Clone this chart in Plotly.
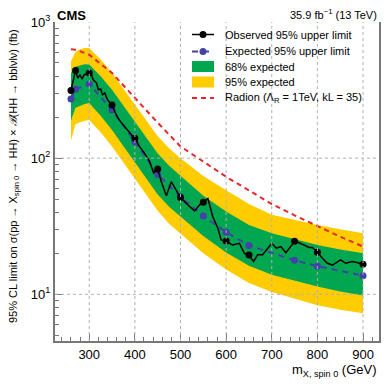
import math
import plotly.graph_objects as go

# ---- data (fb) ----
mass_points = [260, 270, 300, 350, 400, 450, 500, 550, 600, 650, 750, 800, 900]
obs_points = [314, 441, 422, 246, 140, 83.4, 51.3, 47.5, 24.6, 19.4, 24.5, 20.4, 16.6]
exp_points = [272, 321, 350, 226, 132, 76, 52, 37.6, 28.6, 22.8, 17.8, 16.1, 13.7]

# observed limit on the fine scan between the mass points
obs_mass = [260, 270, 275, 280, 284, 289, 300, 304, 309, 316, 320, 325, 329, 334, 340, 350,
            356, 363, 371, 378, 385, 393, 400, 410, 421, 432, 441, 450, 458, 469, 480, 494, 500,
            516, 531, 542, 550, 560, 571, 582, 589, 600, 614, 629, 640, 650, 660, 669, 680, 700,
            710, 720, 731, 750, 760, 782, 789, 800, 811, 822, 833, 851, 862, 876, 887, 900]
obs_limit = [314, 441, 387, 410, 381, 410, 422, 415, 376, 356, 318, 322, 292, 301, 268, 246,
             220, 197, 181, 169, 161, 148, 140, 122, 109, 95, 78, 83.4, 67, 53, 67, 55, 51.3,
             45.4, 41, 45.4, 47.5, 50.5, 37, 30.6, 25.1, 24.6, 23, 23.7, 20, 19.4, 17.4, 19.5, 19.5, 23.7,
             21.8, 22.4, 20.2, 24.5, 23.9, 22.1, 22.1, 20.4, 18.4, 16.9, 16.4, 17.9, 16.9, 17.4, 17.1, 16.6]

band_mass = [260, 270, 280, 290, 300, 325, 350, 375, 400, 425, 450, 475, 500,
             550, 600, 650, 700, 750, 800, 850, 900]
green_hi = [420, 470, 480, 490, 487, 400, 318, 243, 187, 142, 108, 88, 74,
            53, 40.5, 32.3, 28.1, 25.3, 23.0, 21.3, 20.0]
green_lo = [190, 235, 243, 250, 254, 205, 161, 123, 94, 71, 54, 44, 37,
            26.8, 20.3, 16.2, 13.9, 12.6, 11.4, 10.5, 9.8]
yellow_hi = [515, 605, 630, 645, 645, 530, 422, 325, 250, 190, 145, 118, 100,
             74, 58, 46, 38.4, 35, 32.3, 30, 28.1]
yellow_lo = [135, 178, 182, 188, 191, 155, 122, 93, 71, 54, 41, 33, 28,
             20, 15.2, 12.1, 10.4, 9.3, 8.3, 7.7, 7.25]

radion_mass = [260, 270, 280, 300, 350, 400, 450, 500, 550, 600, 650, 700, 750, 800, 850, 900]
radion_xs = [630, 625, 610, 575, 422, 276, 182, 122, 94, 73, 58, 46, 38, 31.6, 26.5, 22.4]

x_ticks = [300, 400, 500, 600, 700, 800, 900]
y_ticks = [10, 100, 1000]
y_ticktext = ["10<sup>1</sup>", "10<sup>2</sup>", "10<sup>3</sup>"]

GREEN = "#00a650"
YELLOW = "#ffcc00"
BLUE = "#4242a8"
RED = "#e5262b"
AXIS = "#777777"
FONT = "Liberation Sans, Arial, sans-serif"

# the page body keeps its 8px margin, so the figure is 8px smaller than the window
OFF = 8
W, H = 382, 382
ML, MR, MT, MB = 47, 11, 14, 49
XR = [225, 935]
YR = [0.657, 3.0]


def px_x(px):
    return (px - OFF - ML) / (W - ML - MR)


def px_y(py):
    return (H - MB - (py - OFF)) / (H - MT - MB)


fig = go.Figure()

fig.add_trace(go.Scatter(x=band_mass + band_mass[::-1], y=yellow_hi + yellow_lo[::-1],
                         fill="toself", fillcolor=YELLOW, line=dict(width=0), mode="lines",
                         hoverinfo="skip"))
fig.add_trace(go.Scatter(x=band_mass + band_mass[::-1], y=green_hi + green_lo[::-1],
                         fill="toself", fillcolor=GREEN, line=dict(width=0), mode="lines",
                         hoverinfo="skip"))
fig.add_trace(go.Scatter(x=mass_points, y=exp_points, mode="lines+markers",
                         line=dict(color=BLUE, width=2, dash="6px,5px"),
                         marker=dict(size=7, color=BLUE)))
fig.add_trace(go.Scatter(x=obs_mass, y=obs_limit, mode="lines",
                         line=dict(color="black", width=1.5)))
fig.add_trace(go.Scatter(x=mass_points, y=obs_points, mode="markers",
                         marker=dict(size=7, color="black")))
fig.add_trace(go.Scatter(x=radion_mass, y=radion_xs, mode="lines",
                         line=dict(color=RED, width=2, dash="5px,4px")))

shapes = []
# dotted grid drawn over the bands
for xv in x_ticks:
    shapes.append(dict(type="line", xref="x", yref="paper", x0=xv, x1=xv, y0=0, y1=1,
                       line=dict(color="#b0b0b0", width=1, dash="dot"), layer="above"))
for yv in y_ticks[:-1]:
    f = (math.log10(yv) - YR[0]) / (YR[1] - YR[0])
    shapes.append(dict(type="line", xref="paper", yref="paper", x0=0, x1=1, y0=f, y1=f,
                       line=dict(color="#b0b0b0", width=1, dash="dot"), layer="above"))

# hand-made legend
lx0, lx1, ldot = 192, 214, 203
rows = [34.5, 51.5, 66.5, 82, 98]
labels = ["Observed 95% upper limit", "Expected 95% upper limit", "68% expected",
          "95% expected", "Radion (Λ<sub>R</sub> = 1TeV, kL = 35)"]
shapes.append(dict(type="line", xref="paper", yref="paper", x0=px_x(lx0), x1=px_x(lx1),
                   y0=px_y(rows[0]), y1=px_y(rows[0]), line=dict(color="black", width=1.5)))
shapes.append(dict(type="line", xref="paper", yref="paper", x0=px_x(lx0), x1=px_x(lx1),
                   y0=px_y(rows[1]), y1=px_y(rows[1]), line=dict(color=BLUE, width=2, dash="6px,5px")))
for r, c in [(rows[0], "black"), (rows[1], BLUE)]:
    shapes.append(dict(type="circle", xref="paper", yref="paper",
                       x0=px_x(ldot - 3.5), x1=px_x(ldot + 3.5), y0=px_y(r + 3.5), y1=px_y(r - 3.5),
                       fillcolor=c, line=dict(width=0)))
for r, c in [(rows[2], GREEN), (rows[3], YELLOW)]:
    shapes.append(dict(type="rect", xref="paper", yref="paper",
                       x0=px_x(lx0), x1=px_x(lx1), y0=px_y(r + 5.5), y1=px_y(r - 5.5),
                       fillcolor=c, line=dict(width=0)))
shapes.append(dict(type="line", xref="paper", yref="paper", x0=px_x(lx0), x1=px_x(lx1),
                   y0=px_y(rows[4]), y1=px_y(rows[4]), line=dict(color=RED, width=2, dash="5px,4px")))

annotations = []
for r, t in zip(rows, labels):
    annotations.append(dict(xref="paper", yref="paper", x=px_x(223), y=px_y(r), text=t,
                            showarrow=False, xanchor="left", yanchor="middle",
                            font=dict(family=FONT, size=11, color="black")))
annotations += [
    dict(xref="paper", yref="paper", x=px_x(55), y=px_y(22), text="<b>CMS</b>", showarrow=False,
         xanchor="left", yanchor="bottom", yshift=-3,
         font=dict(family=FONT, size=13, color="black")),
    dict(xref="paper", yref="paper", x=1, y=px_y(22), text="35.9 fb<sup>−1</sup> (13 TeV)",
         showarrow=False, xanchor="right", yanchor="bottom", yshift=-1,
         font=dict(family=FONT, size=11, color="black")),
    dict(xref="paper", yref="paper", x=1, y=px_y(370), text="m<sub>X, spin 0</sub> (GeV)",
         showarrow=False, xanchor="right", yanchor="middle",
         font=dict(family=FONT, size=13, color="black")),
    dict(xref="paper", yref="paper", x=px_x(14), y=px_y(176), textangle=-90,
         text="95% CL limit on σ(pp → X<sub>spin 0</sub> → HH) × <i>ℬ</i>(HH → bb̄lνlν) (fb)",
         showarrow=False, xanchor="center", yanchor="middle",
         font=dict(family=FONT, size=11, color="black")),
]

minor_y = [5, 6, 7, 8, 9, 20, 30, 40, 50, 60, 70, 80, 90, 200, 300, 400, 500, 600, 700, 800, 900]

fig.update_layout(
    width=W, height=H, margin=dict(l=ML, r=MR, t=MT, b=MB, autoexpand=False),
    paper_bgcolor="white", plot_bgcolor="white", showlegend=False,
    font=dict(family=FONT, size=13, color="black"),
    shapes=shapes, annotations=annotations,
    xaxis=dict(range=XR, tickmode="array", tickvals=x_ticks, ticks="inside", ticklen=8,
               tickcolor=AXIS, showline=True, linecolor=AXIS, linewidth=2, showgrid=False,
               zeroline=False, tickfont=dict(size=13), automargin=False,
               minor=dict(tickmode="linear", tick0=0, dtick=20, ticks="inside", ticklen=4,
                          tickcolor=AXIS, showgrid=False)),
    yaxis=dict(type="log", range=YR, tickmode="array", tickvals=y_ticks, ticktext=y_ticktext,
               ticks="inside", ticklen=8, tickcolor=AXIS, showline=True, linecolor=AXIS,
               linewidth=2, mirror=True, showgrid=False, zeroline=False, tickfont=dict(size=13),
               automargin=False,
               minor=dict(tickmode="array", tickvals=minor_y, ticks="inside", ticklen=4,
                          tickcolor=AXIS, showgrid=False)),
)

fig.write_html("out.html")
